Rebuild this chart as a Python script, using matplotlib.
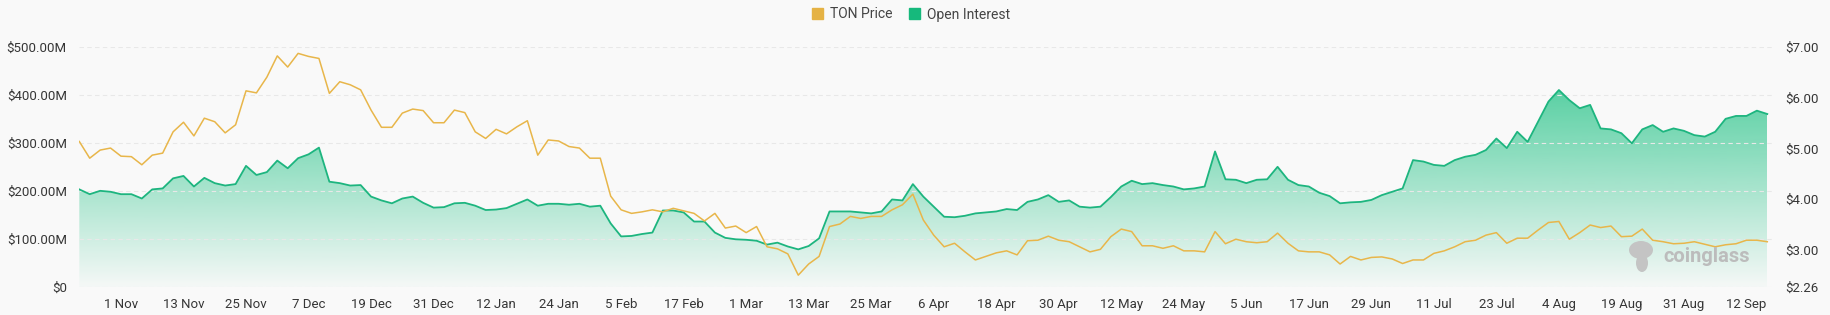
import numpy as np
import matplotlib
matplotlib.use("Agg")
import matplotlib.pyplot as plt
from matplotlib.patches import Patch, Ellipse
from matplotlib.colors import to_rgb

plt.rcParams['font.family'] = ['Roboto', 'DejaVu Sans']

# x tick labels, one every 12 points
tick_labels = ['1 Nov', '13 Nov', '25 Nov', '7 Dec', '19 Dec', '31 Dec', '12 Jan',
               '24 Jan', '5 Feb', '17 Feb', '1 Mar', '13 Mar', '25 Mar', '6 Apr',
               '18 Apr', '30 Apr', '12 May', '24 May', '5 Jun', '17 Jun', '29 Jun',
               '11 Jul', '23 Jul', '4 Aug', '19 Aug', '31 Aug', '12 Sep']

# open interest in $M, read every 2nd point
oi = [204, 194, 201, 199, 194, 194, 185, 204, 206, 227, 232, 210, 228, 217, 212, 215,
      253, 234, 240, 264, 248, 269, 277, 291, 220, 217, 212, 213, 189, 181, 175, 185,
      189, 176, 166, 167, 175, 176, 170, 161, 162, 165, 174, 183, 170, 174, 174, 172,
      174, 168, 170, 133, 106, 107, 111, 114, 160, 160, 156, 137, 137, 114, 103, 100,
      99, 97, 89, 93, 85, 79, 86, 102, 158, 158, 158, 156, 154, 158, 183, 181,
      215, 189, 168, 147, 146, 149, 154, 156, 158, 163, 161, 178, 183, 192, 178, 181,
      168, 166, 168, 188, 210, 222, 215, 217, 213, 210, 204, 206, 210, 283, 225, 224,
      217, 224, 225, 251, 224, 213, 210, 197, 190, 175, 177, 178, 182, 192, 199, 206,
      265, 262, 255, 253, 265, 272, 276, 286, 310, 290, 324, 303, 345, 387, 411, 390,
      373, 380, 331, 329, 321, 300, 329, 338, 324, 331, 326, 317, 314, 324, 351, 357,
      357, 368, 361]

# TON price in $, same points
price = [5.14, 4.81, 4.97, 5.01, 4.85, 4.84, 4.68, 4.87, 4.91, 5.33, 5.52, 5.25, 5.60, 5.53,
         5.31, 5.47, 6.14, 6.10, 6.41, 6.83, 6.61, 6.88, 6.82, 6.78, 6.09, 6.32, 6.26, 6.16,
         5.76, 5.42, 5.42, 5.70, 5.78, 5.75, 5.51, 5.51, 5.76, 5.71, 5.33, 5.20, 5.38, 5.29,
         5.43, 5.55, 4.87, 5.17, 5.15, 5.04, 5.01, 4.81, 4.81, 4.06, 3.79, 3.72, 3.75, 3.79,
         3.75, 3.82, 3.77, 3.72, 3.57, 3.72, 3.43, 3.47, 3.34, 3.46, 3.06, 3.02, 2.92, 2.50,
         2.72, 2.87, 3.46, 3.51, 3.66, 3.62, 3.66, 3.66, 3.79, 3.89, 4.10, 3.59, 3.29, 3.06,
         3.13, 2.96, 2.80, 2.87, 2.94, 2.98, 2.90, 3.18, 3.19, 3.27, 3.19, 3.16, 3.06, 2.96,
         3.01, 3.26, 3.41, 3.36, 3.08, 3.08, 3.03, 3.08, 2.98, 2.98, 2.96, 3.36, 3.12, 3.21,
         3.16, 3.14, 3.16, 3.33, 3.13, 2.98, 2.96, 2.96, 2.90, 2.72, 2.87, 2.80, 2.85, 2.86,
         2.82, 2.73, 2.80, 2.80, 2.93, 2.98, 3.06, 3.16, 3.19, 3.29, 3.34, 3.13, 3.23, 3.23,
         3.39, 3.54, 3.56, 3.21, 3.34, 3.49, 3.44, 3.47, 3.26, 3.27, 3.41, 3.19, 3.16, 3.12,
         3.13, 3.16, 3.11, 3.06, 3.10, 3.12, 3.19, 3.19, 3.16]

left_ticks = [0, 100, 200, 300, 400, 500]
right_ticks = [2.26, 3, 4, 5, 6, 7]

bg = '#f9f9f9'
green = '#1db57f'
fill_green = '#21c285'
yellow = '#e8b64a'
txt = '#363636'

x = np.arange(len(oi)) * 2
tick_pos = 8 + 12 * np.arange(len(tick_labels))

W, H = 1830, 315
fig = plt.figure(figsize=(W / 100, H / 100), dpi=100, facecolor=bg)
ax = fig.add_axes([79.3 / W, 1 - 287.3 / H, (1772.5 - 79.3) / W, 240 / H])
ax.set_facecolor(bg)

# gradient area under open interest
poly = ax.fill_between(x, oi, 0, color='none', lw=0)
rgba = np.zeros((256, 1, 4))
rgba[..., :3] = to_rgb(fill_green)
rgba[..., 3] = np.linspace(0.74, 0.02, 256)[:, None]
im = ax.imshow(rgba, extent=[x[0], x[-1], 0, max(oi)], aspect='auto',
               origin='upper', zorder=1, interpolation='bilinear')
im.set_clip_path(poly.get_paths()[0], transform=ax.transData)
ax.plot(x, oi, color=green, lw=1.3, zorder=3, solid_joinstyle='round')

ax.set_xlim(0, 325)
ax.set_ylim(0, 500)
ax.set_yticks(left_ticks)
ax.set_yticklabels(['$0' if v == 0 else f'${v:.2f}M' for v in left_ticks])
ax.set_xticks(tick_pos)
ax.set_xticklabels(tick_labels)
ax.grid(axis='y', color='#e8e8e8', ls=(0, (4, 3)), lw=0.8, zorder=0)
ax.tick_params(axis='y', length=0, pad=9, labelsize=9.5, labelcolor=txt)
ax.tick_params(axis='x', length=0, pad=8, labelsize=9.5, labelcolor=txt)
for s in ax.spines.values():
    s.set_visible(False)

ax2 = ax.twinx()
ax2.plot(x, price, color=yellow, lw=1.1, zorder=4, solid_joinstyle='round')
ax2.set_ylim(2.26, 7.0)
ax2.set_yticks(right_ticks)
ax2.set_yticklabels([f'${v:.2f}' for v in right_ticks])
ax2.tick_params(axis='y', length=0, pad=9, labelsize=9.5, labelcolor=txt)
for s in ax2.spines.values():
    s.set_visible(False)

# legend
handles = [Patch(color='#e5b244'), Patch(color='#16b97c')]
fig.legend(handles, ['TON Price', 'Open Interest'], loc='center',
           bbox_to_anchor=(911 / W, 1 - 14.5 / H), ncol=2, frameon=False,
           handlelength=0.8, handleheight=0.8, handletextpad=0.5,
           columnspacing=1.2, fontsize=10, labelcolor='#444444')

# watermark
fig.text(1707 / W, 1 - 257 / H, 'coinglass', ha='center', va='center',
         fontsize=14.5, fontweight='bold', color='#bcbcbc')
fig.add_artist(Ellipse((1641 / W, 1 - 250 / H), 24 / W, 18 / H,
                       transform=fig.transFigure, color='#c4c4c4', lw=0))
fig.add_artist(Ellipse((1642 / W, 1 - 263 / H), 12 / W, 18 / H,
                       transform=fig.transFigure, color='#c4c4c4', lw=0))

fig.savefig('out.png', dpi=100, facecolor=bg)
